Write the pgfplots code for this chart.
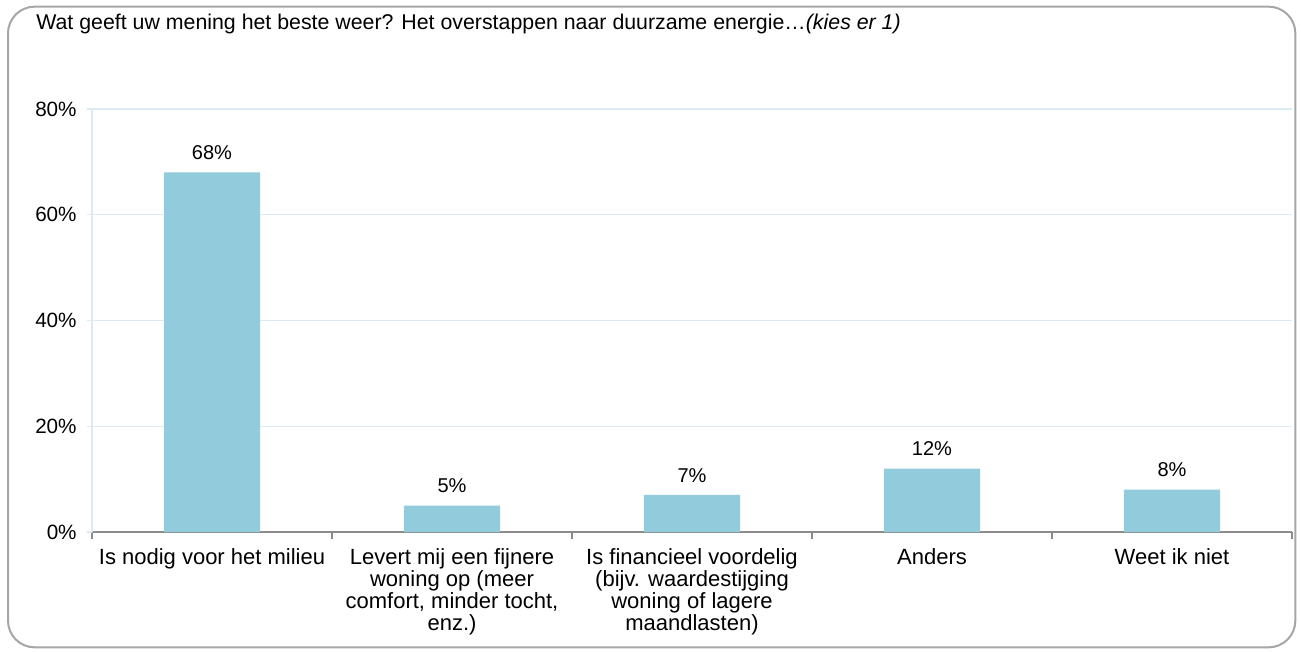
\documentclass[border=0pt]{standalone}
\usepackage{pgfplots}
\pgfplotsset{compat=1.18}
\usepackage{fontspec}
\setmainfont{Liberation Sans}
\definecolor{barblue}{HTML}{92CBDC}
\definecolor{gridblue}{HTML}{DCEAF4}
\definecolor{axisgray}{HTML}{8C8C8C}
\definecolor{framegray}{HTML}{A6A6A6}
\begin{document}
\begin{tikzpicture}
\useasboundingbox (0pt,0pt) rectangle (975.75pt,-489pt);
% outer frame
\draw[framegray, line width=1.5pt, rounded corners=20pt] (6pt,-5pt) rectangle (971.5pt,-485.5pt);
\node[anchor=base west, inner sep=0pt, font=\fontsize{16}{19}\selectfont] at (27pt,-22.5pt)
  {Wat geeft uw mening het beste weer? Het overstappen naar duurzame energie\ldots\textit{(kies er 1)}};
\begin{axis}[
  at={(69pt,-399pt)}, anchor=south west,
  scale only axis, width=900pt, height=317.25pt,
  ymin=0, ymax=80,
  ytick={0,20,40,60,80},
  yticklabels={0\%,20\%,40\%,60\%,80\%},
  xmin=-0.5, xmax=4.5,
  xtick={0,1,2,3,4},
  xticklabels={Is nodig voor het milieu,
    {Levert mij een fijnere\\woning op (meer\\comfort, minder tocht,\\enz.)},
    {Is financieel voordelig\\(bijv. waardestijging\\woning of lagere\\maandlasten)},
    Anders, Weet ik niet},
  minor xtick={-0.5,0.5,1.5,2.5,3.5,4.5},
  major x tick style={draw=none},
  minor x tick style={axisgray, line width=0.8pt},
  minor tick length=5pt,
  y tick style={gridblue, line width=0.8pt},
  major tick length=4pt,
  tick align=outside,
  axis x line*=bottom, axis y line*=left,
  x axis line style={axisgray, line width=1.2pt, -},
  y axis line style={gridblue, line width=0.8pt, -},
  ymajorgrids, grid style={gridblue, line width=0.8pt},
  xticklabel style={align=center, font=\fontsize{16.5}{16.5}\selectfont, yshift=-5pt},
  yticklabel style={font=\fontsize{15.5}{17}\selectfont, xshift=-4pt},
  ybar, bar width=72pt,
  nodes near coords={\pgfmathprintnumber{\pgfplotspointmeta}\%},
  nodes near coords style={font=\fontsize{15}{17}\selectfont, anchor=south, yshift=6pt,
    /pgf/number format/assume math mode=true},
  clip=false,
]
\addplot[fill=barblue, draw=none] coordinates {(0,68) (1,5) (2,7) (3,12) (4,8)};
\end{axis}
\end{tikzpicture}
\end{document}
